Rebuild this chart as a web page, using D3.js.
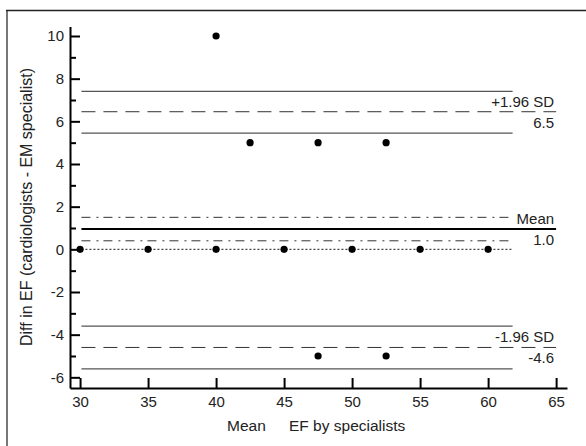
<!DOCTYPE html>
<meta charset="UTF-8">
<html>
<head>
	<title>Bland-Altman EF</title>
	<script src="https://d3js.org/d3.v7.min.js"></script>
	<style>
		body { margin: 0; background: #fff; }
		text { font-family: "Liberation Sans", Arial, sans-serif; fill: #222; }
	</style>
</head>
<body>
	<svg id="plot" width="586" height="446"></svg>

	<script>
		// Data
		var meanEF = [40, 42.5, 47.5, 52.5, 30, 35, 40, 45, 50, 55, 60, 47.5, 52.5];
		var diffEF = [10, 5, 5, 5, 0, 0, 0, 0, 0, 0, 0, -5, -5];

		var xTicks = [30, 35, 40, 45, 50, 55, 60, 65];
		var yTicks = [-6, -4, -2, 0, 2, 4, 6, 8, 10];
		var yMinor = [-5, -3, -1, 1, 3, 5, 7, 9];

		// Reference lines: value, kind, x end
		var refValue = [7.4, 6.45, 5.45, 1.5, 0.95, 0.4, 0, -3.6, -4.6, -5.6];
		var refKind  = ["ci", "loa", "ci", "mci", "mean", "mci", "zero", "ci", "loa", "ci"];
		var refEnd   = [61.8, 65, 61.8, 61.6, 65, 61.6, 61.8, 61.8, 65, 61.8];

		// Labels at the right of the lines
		var labelText = ["+1.96 SD", "6.5", "Mean", "1.0", "-1.96 SD", "-4.6"];
		var labelAt   = [6.45, 6.45, 0.95, 0.95, -4.6, -4.6];
		var labelSide = ["above", "below", "above", "below", "above", "below"];

		var svg = d3.select("#plot");

		var x = d3.scaleLinear().domain([29.26, 65.8]).range([70, 567]);
		var y = d3.scaleLinear().domain([-6.5, 10.45]).range([388, 26.4]);

		// outer frame (only left and top are visible)
		svg.append("line").attr("x1", 7).attr("x2", 7).attr("y1", 10).attr("y2", 446)
			.attr("stroke", "#777").attr("stroke-width", 2);
		svg.append("line").attr("x1", 6).attr("x2", 586).attr("y1", 10.5).attr("y2", 10.5)
			.attr("stroke", "#222").attr("stroke-width", 1.5);

		var styles = {
			ci:   {stroke: "#555", width: 1.3, dash: null},
			loa:  {stroke: "#333", width: 1, dash: "14,8"},
			mci:  {stroke: "#333", width: 1, dash: "9,6,2,5"},
			mean: {stroke: "#000", width: 2, dash: null},
			zero: {stroke: "#444", width: 1.2, dash: "2,2"}
		};

		refValue.forEach(function(v, i){
			var s = styles[refKind[i]];
			svg.append("line")
				.attr("x1", x(30.1)).attr("x2", x(refEnd[i]))
				.attr("y1", y(v)).attr("y2", y(v))
				.attr("stroke", s.stroke)
				.attr("stroke-width", s.width)
				.attr("stroke-dasharray", s.dash);
		});

		labelText.forEach(function(t, i){
			svg.append("text")
				.attr("x", x(65) - 2)
				.attr("y", y(labelAt[i]) + (labelSide[i] == "above" ? -5 : 16))
				.attr("text-anchor", "end")
				.style("font-size", "15px")
				.text(t);
		});

		// points
		svg.selectAll("circle.pt")
			.data(meanEF)
			.enter()
			.append("circle")
				.attr("class", "pt")
				.attr("cx", function(d){ return x(d); })
				.attr("cy", function(d, i){ return y(diffEF[i]); })
				.attr("r", 3.6)
				.style("fill", "#000");

		// axes (plain hyphen for negatives, like the original)
		var fmt = function(d){ return String(d); };
		svg.append("g").attr("transform", "translate(70,0)")
			.call(d3.axisLeft(y).tickValues(yTicks).tickFormat(fmt).tickSize(-10).tickSizeOuter(0).tickPadding(6));
		svg.append("g").attr("transform", "translate(70,0)")
			.call(d3.axisLeft(y).tickValues(yMinor).tickSize(-6).tickSizeOuter(0).tickFormat(""))
			.select(".domain").remove();
		svg.append("g").attr("transform", "translate(0,388)")
			.call(d3.axisBottom(x).tickValues(xTicks).tickFormat(fmt).tickSize(-10).tickSizeOuter(0).tickPadding(8));

		svg.selectAll(".domain").attr("stroke", "#000").attr("stroke-width", 2);
		svg.selectAll(".tick line").attr("stroke", "#000").attr("stroke-width", 2);
		svg.selectAll(".tick text").style("font-size", "15px").style("font-family", "Liberation Sans, Arial, sans-serif").attr("fill", "#222");

		// axis titles
		svg.append("text")
			.attr("transform", "translate(32,207) rotate(-90)")
			.attr("text-anchor", "middle")
			.style("font-size", "16px")
			.text("Diff in EF (cardiologists - EM specialist)");

		var xt = svg.append("text").attr("y", 431).style("font-size", "15.5px");
		xt.append("tspan").attr("x", 227).text("Mean");
		xt.append("tspan").attr("x", 289).text("EF by specialists");
	</script>
</body>
</html>
